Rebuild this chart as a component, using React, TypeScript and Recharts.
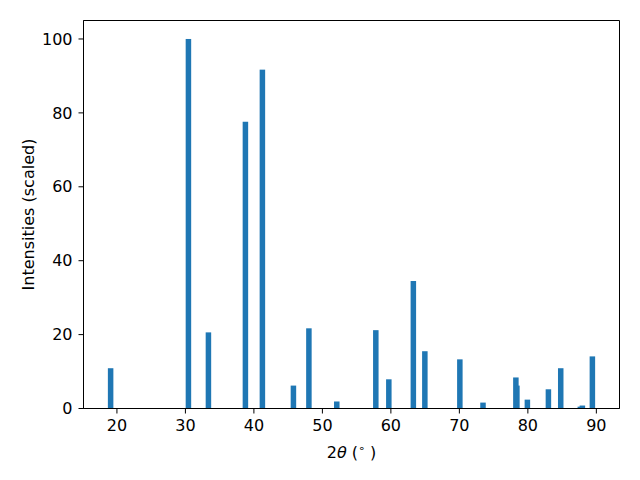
import { BarChart, Bar, XAxis, YAxis, ReferenceArea, Label } from "recharts";

// peak positions (2theta, degrees) and scaled intensities
const twoTheta = [
  19.08, 30.44, 33.36, 38.76, 41.24, 45.77, 48.03, 52.1, 57.8, 59.7, 63.28,
  64.96, 70.07, 73.45, 78.25, 78.4, 79.93, 83.0, 84.8, 87.66, 87.96, 89.42,
];
const intensity = [
  10.9, 100, 20.6, 77.6, 91.7, 6.2, 21.7, 1.9, 21.2, 7.9, 34.5, 15.5, 13.3,
  1.6, 8.4, 6.2, 2.4, 5.2, 10.9, 0.5, 0.8, 14.1,
];
const xTicks = [20, 30, 40, 50, 60, 70, 80, 90];
const yTicks = [0, 20, 40, 60, 80, 100];

const X_DOMAIN: [number, number] = [15.12, 93.38];
const Y_DOMAIN: [number, number] = [0, 105];

const data = twoTheta.map((t, i) => ({ t, v: intensity[i] }));

const BLUE = "#1f77b4";
const FONT = "DejaVu Sans";

// fixed-width bar centred on the x value (band size collapses on close peaks)
const PeakBar = (props: any) => {
  const { x, width, y, height } = props;
  if (height == null || isNaN(height)) return null;
  const w = 5.5;
  return (
    <rect
      x={x + width / 2 - w / 2}
      y={y}
      width={w}
      height={height}
      fill={BLUE}
    />
  );
};

export default function App() {
  return (
    <div style={{ position: "absolute", left: 0, top: 0, background: "#fff" }}>
      <BarChart
        width={640}
        height={480}
        data={data}
        margin={{ top: 20.5, right: 20.5, bottom: 0, left: 0 }}
      >
        <XAxis
          dataKey="t"
          type="number"
          domain={X_DOMAIN}
          ticks={xTicks}
          allowDataOverflow
          height={71.5}
          tickSize={5}
          tickMargin={6}
          stroke="#000"
          tick={{ fill: "#000", fontSize: 16, fontFamily: FONT }}
          tickLine={{ stroke: "#000" }}
        >
          <Label
            content={({ viewBox }: any) => (
              <text
                x={viewBox.x + viewBox.width / 2}
                y={458}
                textAnchor="middle"
                fontSize={16}
                fontFamily={FONT}
                fill="#000"
              >
                2<tspan fontStyle="italic">θ</tspan> (
                <tspan fontSize={11} dy={-6}>
                  ∘
                </tspan>
                <tspan dy={6}> )</tspan>
              </text>
            )}
          />
        </XAxis>
        <YAxis
          type="number"
          domain={Y_DOMAIN}
          ticks={yTicks}
          allowDataOverflow
          width={83.5}
          tickSize={5}
          tickMargin={6}
          stroke="#000"
          tick={{ fill: "#000", fontSize: 16, fontFamily: FONT }}
          tickLine={{ stroke: "#000" }}
        >
          <Label
            content={({ viewBox }: any) => (
              <text
                transform={`translate(34, ${viewBox.y + viewBox.height / 2}) rotate(-90)`}
                textAnchor="middle"
                fontSize={16}
                fontFamily={FONT}
                fill="#000"
              >
                Intensities (scaled)
              </text>
            )}
          />
        </YAxis>
        <ReferenceArea
          x1={X_DOMAIN[0]}
          x2={X_DOMAIN[1]}
          y1={Y_DOMAIN[0]}
          y2={Y_DOMAIN[1]}
          fill="none"
          fillOpacity={0}
          stroke="#000"
          strokeOpacity={1}
          strokeWidth={1}
        />
        <Bar dataKey="v" isAnimationActive={false} shape={PeakBar} />
      </BarChart>
    </div>
  );
}
